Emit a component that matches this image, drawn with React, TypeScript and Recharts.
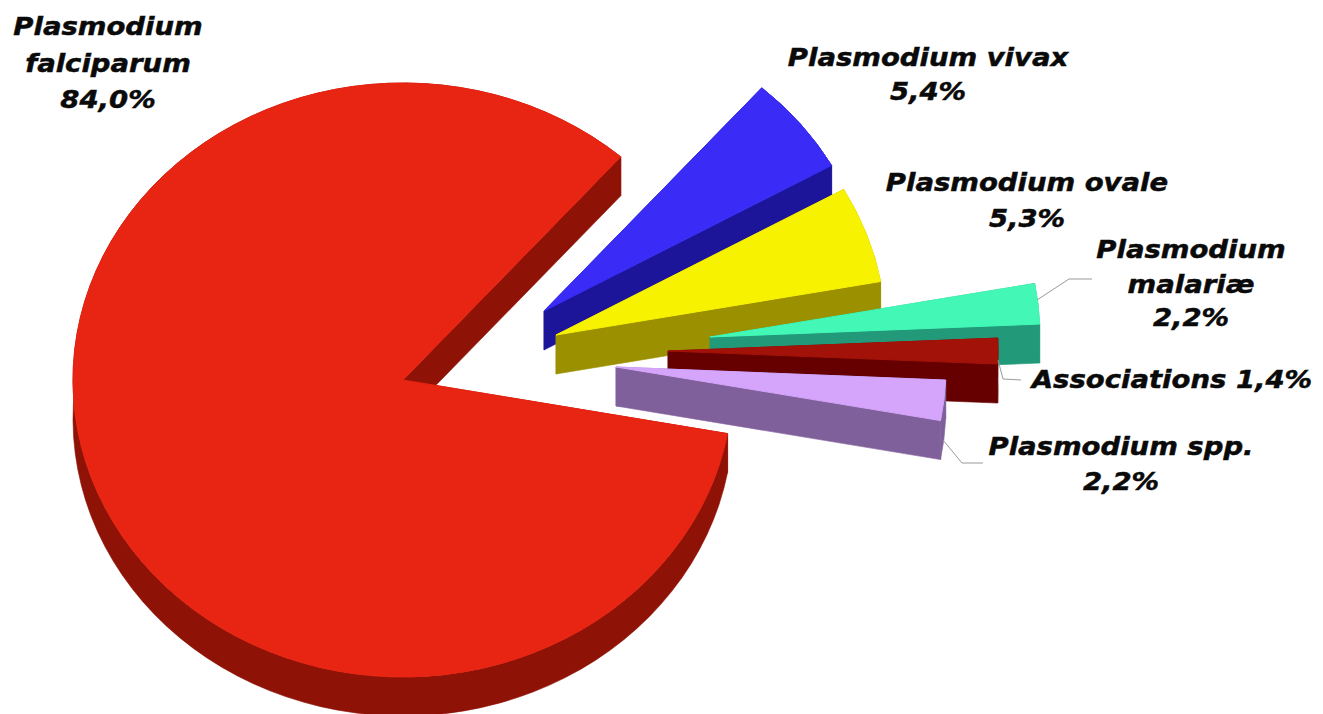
import { Pie, PieChart } from "recharts";

const SPECIES = [
  "Plasmodium falciparum",
  "Plasmodium vivax",
  "Plasmodium ovale",
  "Plasmodium malariæ",
  "Associations",
  "Plasmodium spp.",
];
const SHARES = [84.0, 5.4, 5.3, 2.2, 1.4, 2.2];

const TOP_COLORS = ["#e82412", "#3a2cf6", "#f7f200", "#43f8b6", "#a31208", "#d4a5fb"];
const SIDE_COLORS = ["#8f1206", "#1c1599", "#9b9100", "#229a7a", "#660000", "#80609a"];

// where each slice's tip sits once pulled out of the pie
const TIPS = [
  [403, 380],
  [544, 311],
  [556, 335],
  [710, 337],
  [668, 351],
  [616, 367],
];

const LABELS = [
  { x: 108, lines: ["Plasmodium", "falciparum", "%"], ys: [35, 72, 108] },
  { x: 928, lines: ["Plasmodium vivax", "%"], ys: [66, 100] },
  { x: 1027, lines: ["Plasmodium ovale", "%"], ys: [191, 227] },
  { x: 1191, lines: ["Plasmodium", "malariæ", "%"], ys: [258, 293, 326] },
  { x: 1172, lines: ["Associations %"], ys: [388] },
  { x: 1121, lines: ["Plasmodium spp.", "%"], ys: [455, 490] },
];

const LEADERS = [
  null,
  null,
  null,
  "1037,300 1069,279 1092,279",
  "998,360 1003,379 1021,380",
  "943,440 962,463 983,463",
];

const chartData = SPECIES.map((name, i) => ({ name, value: SHARES[i], fill: TOP_COLORS[i] }));

const TILT = 0.9;
const DEPTH = 39;
const RAD = Math.PI / 180;

const formatShare = (v: number) => `${v.toFixed(1).replace(".", ",")}%`;

// squashed, extruded wedge built from the angles the Pie computed
function Slice(props: any) {
  const { outerRadius, startAngle, endAngle, index } = props;
  const [tx, ty] = TIPS[index];
  const rx = outerRadius;
  const ry = outerRadius * TILT;
  const a = { x: tx + rx * Math.cos(startAngle * RAD), y: ty - ry * Math.sin(startAngle * RAD) };
  const b = { x: tx + rx * Math.cos(endAngle * RAD), y: ty - ry * Math.sin(endAngle * RAD) };
  const large = Math.abs(startAngle - endAngle) > 180 ? 1 : 0;
  // slices run clockwise on screen
  const arc = (dy: number) => `M${a.x},${a.y + dy} A${rx},${ry} 0 ${large} 1 ${b.x},${b.y + dy}`;
  const arcBack = `A${rx},${ry} 0 ${large} 0 ${a.x},${a.y + DEPTH}`;
  const side = SIDE_COLORS[index];
  return (
    <g>
      <g fill={side} stroke={side} strokeWidth={0.6}>
        <path d={`${arc(0)} L${b.x},${b.y + DEPTH} ${arcBack} Z`} />
        <path d={`M${tx},${ty} L${a.x},${a.y} L${a.x},${a.y + DEPTH} L${tx},${ty + DEPTH} Z`} />
        <path d={`M${tx},${ty} L${b.x},${b.y} L${b.x},${b.y + DEPTH} L${tx},${ty + DEPTH} Z`} />
      </g>
      <path d={`${arc(0)} L${tx},${ty} Z`} fill={TOP_COLORS[index]} stroke={TOP_COLORS[index]} strokeWidth={1} />
    </g>
  );
}

function SliceLabel(props: any) {
  const { index, value } = props;
  const { x, lines, ys } = LABELS[index];
  return (
    <g>
      {LEADERS[index] && <polyline points={LEADERS[index]!} fill="none" stroke="#9a9a9a" strokeWidth={1} />}
      {lines.map((line, i) => (
        <text
          key={line}
          transform={`translate(${x},${ys[i]}) scale(1.1,1)`}
          textAnchor="middle"
          fontFamily="'DejaVu Sans'"
          fontWeight="bold"
          fontStyle="italic"
          fontSize={25}
          fill="#0a0a0a"
          stroke="#0a0a0a"
          strokeWidth={0.5}
        >
          {line.endsWith("%") ? line.replace("%", formatShare(value)) : line}
        </text>
      ))}
    </g>
  );
}

export default function App() {
  return (
    <div style={{ position: "absolute", left: 0, top: 0, width: 1323, height: 714, background: "#fff", overflow: "hidden" }}>
      <PieChart width={1323} height={714} margin={{ top: 0, right: 0, bottom: 0, left: 0 }}>
        <Pie
          data={chartData}
          dataKey="value"
          nameKey="name"
          cx={403}
          cy={380}
          innerRadius={0}
          outerRadius={330}
          startAngle={349.6}
          endAngle={-10.4}
          stroke="none"
          shape={Slice}
          label={SliceLabel}
          labelLine={false}
          isAnimationActive={false}
        />
      </PieChart>
    </div>
  );
}
